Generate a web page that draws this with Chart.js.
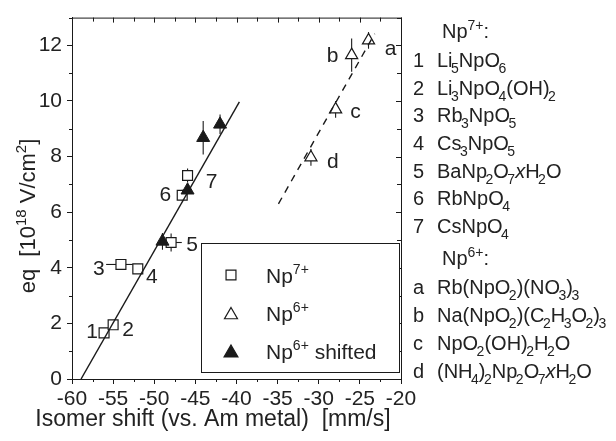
<!DOCTYPE html>
<html><head><meta charset="utf-8">
<script src="https://cdn.jsdelivr.net/npm/chart.js@4/dist/chart.umd.min.js"></script>
<style>html,body{margin:0;padding:0;background:#fff}#wrap{width:616px;height:441px;position:relative}</style>
</head><body><div id="wrap"><canvas id="c" width="616" height="441"></canvas></div>
<script>
// ---- data ----
const np7Labels = ['1','2','3','4','5','6','7'];
const np7X = [-56.1, -55.0, -54.05, -52.0, -47.95, -46.6, -45.95];
const np7Y = [1.66, 1.95, 4.12, 3.96, 4.91, 6.61, 7.32];
const np7XErr = [0, 0, 1.8, 0, 1.3, 0, 0.65];
const np7YErr = [0, 0, 0, 0, 0.32, 0.2, 0.25];

const np6Labels = ['a','b','c','d'];
const np6X = [-23.95, -26.0, -27.95, -30.95];
const np6Y = [12.18, 11.65, 9.7, 7.97];
const np6YErr = [0.3, 0.6, 0.3, 0.3];

const np6ShiftX = [-49.0, -45.95, -44.05, -42.0];
const np6ShiftY = [4.95, 6.79, 8.68, 9.16];
const np6ShiftYErr = [0.3, 0, 0.6, 0.35];

const fitSolidX = [-58.9, -39.65];
const fitSolidY = [0, 9.97];
const fitDashX = [-34.9, -23.2];
const fitDashY = [6.3, 12.42];

const xTickValues = [-60, -55, -50, -45, -40, -35, -30, -25, -20];
const yTickValues = [0, 2, 4, 6, 8, 10, 12];
const xTitle = 'Isomer shift (vs. Am metal)  [mm/s]';

// ---- helpers ----
const FONT = '"Liberation Sans", Arial, Helvetica, sans-serif';
const INK = '#1a1a1a';
const TXT = '#222';
const pts = (xs, ys) => xs.map((x, i) => ({x, y: ys[i]}));

function segFont(m, base) {
  const size = (m === 1 || m === 2) ? Math.round(base * 0.68) : base;
  return (m === 3 ? 'italic ' : '') + size + 'px ' + FONT;
}
function rich(ctx, segs, x, y, base, subKern) {
  let cx = x;
  const k = subKern || 0;
  for (const [t, m] of segs) {
    ctx.font = segFont(m, base);
    const dy = m === 1 ? base * 0.32 : (m === 2 ? -base * 0.42 : 0);
    if (m === 1) cx -= k;
    ctx.fillText(t, cx, y + dy);
    cx += ctx.measureText(t).width;
  }
  return cx - x;
}
function richWidth(ctx, segs, base) {
  let w = 0;
  for (const [t, m] of segs) { ctx.font = segFont(m, base); w += ctx.measureText(t).width; }
  return w;
}

const listItems = [
  {key: '', segs: [['Np',0],['7+',2],[':',0]], head: true, base: 38},
  {key: '1', segs: [['Li',0],['5',1],['NpO',0],['6',1]], base: 67},
  {key: '2', segs: [['Li',0],['3',1],['NpO',0],['4',1],['(OH)',0],['2',1]], base: 94.5},
  {key: '3', segs: [['Rb',0],['3',1],['NpO',0],['5',1]], base: 122},
  {key: '4', segs: [['Cs',0],['3',1],['NpO',0],['5',1]], base: 150},
  {key: '5', segs: [['BaNp',0],['2',1],['O',0],['7',1],['x',3],['H',0],['2',1],['O',0]], base: 177.5},
  {key: '6', segs: [['RbNpO',0],['4',1]], base: 205},
  {key: '7', segs: [['CsNpO',0],['4',1]], base: 233},
  {key: '', segs: [['Np',0],['6+',2],[':',0]], head: true, base: 265},
  {key: 'a', segs: [['Rb(NpO',0],['2',1],[')(NO',0],['3',1],[')',0],['3',1]], base: 294},
  {key: 'b', segs: [['Na(NpO',0],['2',1],[')(C',0],['2',1],['H',0],['3',1],['O',0],['2',1],[')',0],['3',1]], base: 322},
  {key: 'c', segs: [['NpO',0],['2',1],['(OH)',0],['2',1],['H',0],['2',1],['O',0]], base: 350},
  {key: 'd', segs: [['(NH',0],['4',1],[')',0],['2',1],['Np',0],['2',1],['O',0],['7',1],['x',3],['H',0],['2',1],['O',0]], base: 378}
];

const labelOffsets7 = [[-12,-1],[15,5],[-22,5],[14,8],[21,3],[-17,0],[24,7]];
const labelOffsets6 = [[22,9],[-19,1],[20,3],[22,5]];

const decor = {
  id: 'decor',
  beforeDatasetsDraw(chart) {
    const {ctx, scales: {x, y}} = chart;
    ctx.save();
    ctx.strokeStyle = INK; ctx.lineWidth = 1.1;
    const bar = (x1, y1, x2, y2) => { ctx.beginPath(); ctx.moveTo(x1, y1); ctx.lineTo(x2, y2); ctx.stroke(); };
    const errs = [[np7X, np7Y, np7XErr, np7YErr], [np6X, np6Y, null, np6YErr], [np6ShiftX, np6ShiftY, null, np6ShiftYErr]];
    for (const [xs, ys, xe, ye] of errs) {
      xs.forEach((v, i) => {
        const px = x.getPixelForValue(v), py = y.getPixelForValue(ys[i]);
        if (xe && xe[i]) bar(x.getPixelForValue(v - xe[i]), py, x.getPixelForValue(v + xe[i]), py);
        if (ye && ye[i]) bar(px, y.getPixelForValue(ys[i] - ye[i]), px, y.getPixelForValue(ys[i] + ye[i]));
      });
    }
    ctx.restore();
  },
  afterDraw(chart) {
    const {ctx, chartArea: a, scales: {x, y}} = chart;
    ctx.save();
    ctx.strokeStyle = INK; ctx.lineWidth = 1;
    const ln = (x1, y1, x2, y2) => { ctx.beginPath(); ctx.moveTo(x1, y1); ctx.lineTo(x2, y2); ctx.stroke(); };
    ln(a.left, a.top + 0.5, a.right + 0.5, a.top + 0.5);
    ln(a.right + 0.5, a.top, a.right + 0.5, a.bottom);
    for (let v = -60; v <= -20; v += 2.5) {
      const px = Math.round(x.getPixelForValue(v)) + 0.5;
      const major = Number.isInteger(v / 5);
      ln(px, a.top, px, a.top + (major ? 5 : 4));
      if (!major) ln(px, a.bottom, px, a.bottom + 3);
    }
    for (let v = 0; v <= 13; v += 1) {
      const py = Math.round(y.getPixelForValue(v)) + 0.5;
      const major = v % 2 === 0;
      ln(a.right, py, a.right - (major ? 5 : 4), py);
      if (!major) ln(a.left, py, a.left - 3, py);
    }
    // point labels
    ctx.fillStyle = TXT; ctx.font = '21px ' + FONT;
    ctx.textAlign = 'center'; ctx.textBaseline = 'middle';
    np7Labels.forEach((t, i) => {
      ctx.fillText(t, x.getPixelForValue(np7X[i]) + labelOffsets7[i][0], y.getPixelForValue(np7Y[i]) + labelOffsets7[i][1]);
    });
    np6Labels.forEach((t, i) => {
      ctx.fillText(t, x.getPixelForValue(np6X[i]) + labelOffsets6[i][0], y.getPixelForValue(np6Y[i]) + labelOffsets6[i][1]);
    });
    // legend
    const lx = 201, ly = 243, lw = 198, lh = 129;
    ctx.fillStyle = '#fff';
    ctx.fillRect(lx, ly, lw, lh);
    ctx.strokeRect(lx + 0.5, ly + 0.5, lw, lh);
    const rows = [
      {style: 'rect', r: 7, fill: '#fff', segs: [['Np',0],['7+',2]]},
      {style: 'triangle', r: 7.5, fill: '#fff', segs: [['Np',0],['6+',2]]},
      {style: 'triangle', r: 8, fill: INK, segs: [['Np',0],['6+',2],[' shifted',0]]}
    ];
    const rowY = [275, 313, 351];
    rows.forEach((r, i) => {
      ctx.fillStyle = r.fill; ctx.strokeStyle = INK; ctx.lineWidth = 1.2;
      Chart.helpers.drawPoint(ctx, {pointStyle: r.style, radius: r.r, borderWidth: 1.2}, 231, rowY[i] + (r.style === 'triangle' ? 2 : 0));
      ctx.fillStyle = TXT; ctx.textAlign = 'left'; ctx.textBaseline = 'alphabetic';
      rich(ctx, r.segs, 266, rowY[i] + 8, 21);
    });
    // compound list
    ctx.fillStyle = TXT; ctx.textAlign = 'left'; ctx.textBaseline = 'alphabetic';
    for (const it of listItems) {
      if (it.head) { rich(ctx, it.segs, 442, it.base, 20); continue; }
      ctx.font = '20px ' + FONT;
      ctx.fillText(it.key, 413, it.base);
      rich(ctx, it.segs, 437, it.base, 20, 1.5);
    }
    // x title
    ctx.font = '23px ' + FONT;
    ctx.textAlign = 'center'; ctx.textBaseline = 'alphabetic';
    ctx.fillText(xTitle, 213, 426);
    // y title
    ctx.textAlign = 'left';
    const ysegs = [['eq  [10',0],['18',2],[' V/cm',0],['2',2],[']',0]];
    ctx.translate(35, 216);
    ctx.rotate(-Math.PI / 2);
    const w = richWidth(ctx, ysegs, 22);
    rich(ctx, ysegs, -w / 2, 0, 22);
    ctx.restore();
  }
};

const ctxEl = document.getElementById('c');
new Chart(ctxEl, {
  type: 'scatter',
  data: {
    datasets: [
      {label: 'fit', data: pts(fitSolidX, fitSolidY), showLine: true, pointRadius: 0, borderColor: INK, borderWidth: 1.4, order: 0},
      {label: 'fit6', data: pts(fitDashX, fitDashY), showLine: true, pointRadius: 0, borderColor: INK, borderWidth: 1.4, borderDash: [7, 6], order: 0},
      {label: 'Np7+', data: pts(np7X, np7Y), pointStyle: 'rect', pointRadius: 7, borderColor: INK, backgroundColor: '#fff', borderWidth: 1.2, order: 2},
      {label: 'Np6+', data: pts(np6X, np6Y), pointStyle: 'triangle', pointRadius: 7, borderColor: INK, backgroundColor: '#fff', borderWidth: 1.2, order: 2},
      {label: 'Np6+ shifted', data: pts(np6ShiftX, np6ShiftY), pointStyle: 'triangle', pointRadius: 7.5, borderColor: INK, backgroundColor: INK, borderWidth: 1, order: 1}
    ]
  },
  options: {
    responsive: false, animation: false, devicePixelRatio: 1,
    layout: {padding: {left: 0, right: 215, top: 14, bottom: 0}},
    plugins: {legend: {display: false}, tooltip: {enabled: false}},
    scales: {
      x: {
        type: 'linear', min: -60, max: -20,
        afterFit: s => { s.height = 62; },
        afterBuildTicks: s => { s.ticks = xTickValues.map(v => ({value: v})); },
        ticks: {font: {size: 21, family: FONT}, color: TXT, padding: 3, maxRotation: 0, autoSkip: false},
        grid: {display: true, drawOnChartArea: false, drawTicks: true, tickLength: 5, color: INK},
        border: {display: true, color: INK, width: 1},
        title: {display: false}
      },
      y: {
        type: 'linear', min: 0, max: 13,
        afterFit: s => { s.width = 72; },
        afterBuildTicks: s => { s.ticks = yTickValues.map(v => ({value: v})); },
        ticks: {font: {size: 21, family: FONT}, color: TXT, padding: 5, autoSkip: false},
        grid: {display: true, drawOnChartArea: false, drawTicks: true, tickLength: 5, color: INK},
        border: {display: true, color: INK, width: 1}
      }
    }
  },
  plugins: [decor]
});
</script></body></html>
